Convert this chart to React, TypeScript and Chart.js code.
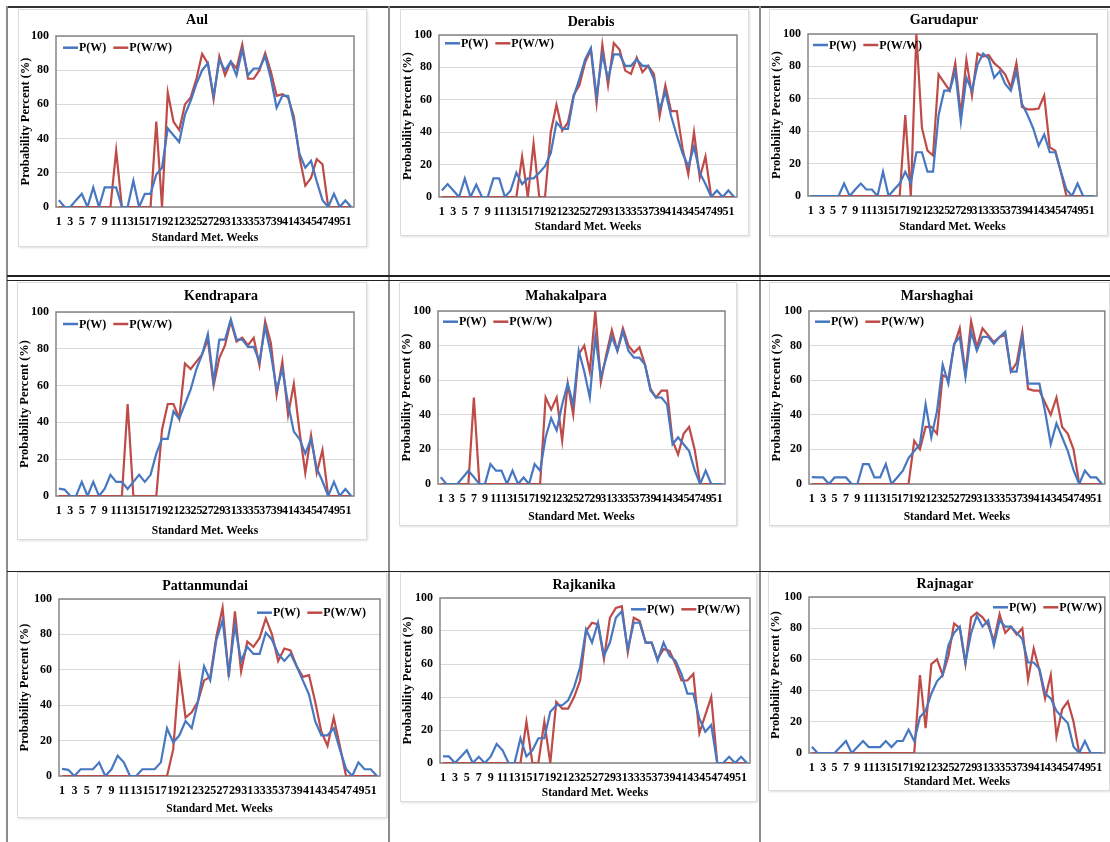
import React, { useEffect, useRef } from "react";
import { Chart, registerables } from "chart.js";
Chart.register(...registerables);

const weeks = ["1","2","3","4","5","6","7","8","9","10","11","12","13","14","15","16","17","18","19","20","21","22","23","24","25","26","27","28","29","30","31","32","33","34","35","36","37","38","39","40","41","42","43","44","45","46","47","48","49","50","51","52"];
const yTicks = [0, 20, 40, 60, 80, 100];

const aulPW = [4,0,0,4,7.7,0,11.5,0,11.5,11.5,11.5,0,0,15.4,0,7.7,7.7,19,23,46,42,38,54,62,72,80,84,65,86,80,85,77,92,77,81,81,88,75,58,65,65,50,31,23,27,15,4,0,7.7,0,3.8,0];
const aulPWW = [0,0,0,0,0,0,0,0,0,0,33,0,0,0,0,0,0,50,0,67,50,45,60,64,75,89.5,84,63,88,77,85,81,95,75,75,80,90,79,65,66,64,53,29,12.5,17,28,25,0,0,0,0,0];

const derabisPW = [4,8,4,0,11.5,0,7.7,0,0,11.5,11.5,0,4,15,8,11.5,11.5,15,19,27,46,42,42,62,73,85,92,62,88,73,88,88,81,81,85,81,81,73,54,65,50,38,27,19,31,15,8,0,4,0,4,0];
const derabisPWW = [0,0,0,0,0,0,0,0,0,0,0,0,0,0,25,0,33,0,0,40,57,41,46,63,69,83,91,58,94,69,95,91,78,76,86,77,81,76,50,69,53,53,30,14,40,12,25,0,0,0,0,0];

const garudapurPW = [0,0,0,0,0,0,7.7,0,4,7.7,4,4,0,15,0,4,7.7,15,8,27,27,15,15,50,65,65,77,46,73,65,81,88,85,73,77,69,65,77,57,50,42,31,38,27,27,15,4,0,7.7,0,0,0];
const garudapurPWW = [0,0,0,0,0,0,0,0,0,0,0,0,0,0,0,0,0,50,0,100,42,28,25,75,70,65,82,50,84,62,88,86,87,82,79,75,67,82,55,53.5,53.5,54,62,30,28,15,0,0,0,0,0,0];

const kendraparaPW = [4,3.5,0,0,7.7,0,7.7,0,4,11.5,7.7,7.7,3.8,7.7,11.5,7.7,11.5,23,31,31,46,42,50,58,69,77,88,62,85,85,96,85,85,81,81,73,92,77,58,69,50,35,31,23,31,15,8,0,7.7,0,3.8,0];
const kendraparaPWW = [0,0,0,0,0,0,0,0,0,0,0,0,50,0,0,0,0,0,36,50,50,42,72,69,73,77,85,60,75,82,95,84,86,82,86,71,95,83,55,73,44,61,35,12.5,33,12.5,25,0,0,0,0,0];

const mahakalparaPW = [4,0,0,0,3.8,7.7,4,0,0,11.5,7.7,7.7,0,7.7,0,3.8,0,11.5,7.7,27,38,31,46,58,46,77,65,50,85,62,73,85,77,88,77,73,73,69,54,50,50,46,23,27,23,19,8,0,7.7,0,0,0];
const mahakalparaPWW = [0,0,0,0,0,0,50,0,0,0,0,0,0,0,0,0,0,0,0,50,43,50,25,58,40,75,80,65,100,59,75,89,77,90,80,76,79,69,55,50,54,54,25,17,29,33,20,0,0,0,0,0];

const marshaghaiPW = [4,3.8,3.8,0,3.8,3.8,3.8,0,0,11.5,11.5,3.8,3.8,11.5,0,3.8,7.7,15,19,23,46,27,42,69,58,81,85,62,88,77,85,85,81,85,88,65,65,85,58,58,58,42,23,35,27,19,8,0,7.7,3.8,3.8,0];
const marshaghaiPWW = [0,0,0,0,0,0,0,0,0,0,0,0,0,0,0,0,0,0,25,20,33,33,29,63,61,80,90,64,94,79,90,86,82,85,86,65,70,88,55,54,54,47,40,50,33,29,20,0,0,0,0,0];

const pattanmundaiPW = [4,3.5,0,3.8,3.8,3.8,7.7,0,3.8,11.5,7.7,0,0,3.8,3.8,3.8,7.7,27,19,23,31,27,42,62,54,77,88,58,85,65,73,69,69,81,77,69,65,69,62,54,46,31,23,23,27,15,4,0,7.7,3.8,3.8,0];
const pattanmundaiPWW = [0,0,0,0,0,0,0,0,0,0,0,0,0,0,0,0,0,0,15,60,33,36,42,54,56,79,95,56,93,59,76,73,78,89,80,65,72,71,62,56,57,42,25,17,33,17,0,0,0,0,0,0];

const rajkanikaPW = [4,4,0,3.8,7.7,0,3.8,0,3.8,11.5,7.7,0,0,15,4,7.7,15,15,31,35,35,38,46,58,81,73,85,65,73,88,92,69,85,85,73,73,62,73,65,62,54,42,42,27,19,23,0,0,3.8,0,3.8,0];
const rajkanikaPWW = [0,0,0,0,0,0,0,0,0,0,0,0,0,0,25,0,0,25,0,37,33,33,40,50,80,85,84,63,88,94,95,67,88,86,73,73,63,69,68,60,50,50,54,18,29,40,0,0,0,0,0,0];

const rajnagarPW = [4,0,0,0,0,3.8,7.7,0,3.8,7.7,3.8,3.8,3.8,7.7,3.8,7.7,7.7,15,7.7,23,27,38,46,50,69,77,81,58,77,88,81,85,69,85,81,81,77,73,58,58,54,38,35,27,23,19,4,0,7.7,0,0,0];
const rajnagarPWW = [0,0,0,0,0,0,0,0,0,0,0,0,0,0,0,0,0,0,0,50,16,57,60,50,62,83,80,57,87,90,87,82,72,89,77,81,76,80,47,67,53,35,50,10.7,28,33,20,0,0,0,0,0];

const SERIF = "'Liberation Serif', 'Times New Roman', serif";
const BLUE = "#4677c0";
const RED = "#be4b48";

type Cfg = {
  title: string;
  pw: number[];
  pww: number[];
  box: number[];
  plot: number[];
  titlePos: number[];
  legendPos: number[];
};

const charts: Cfg[] = [
  { title: "Aul", pw: aulPW, pww: aulPWW, box: [18, 9, 367, 247], plot: [56, 36, 354, 207], titlePos: [197, 20], legendPos: [63, 47.7] },
  { title: "Derabis", pw: derabisPW, pww: derabisPWW, box: [400, 9, 749, 236], plot: [439, 35, 737, 197], titlePos: [591, 22], legendPos: [445, 43.3] },
  { title: "Garudapur", pw: garudapurPW, pww: garudapurPWW, box: [769, 9, 1108, 236], plot: [808, 34, 1097, 196], titlePos: [944, 20], legendPos: [813, 45] },
  { title: "Kendrapara", pw: kendraparaPW, pww: kendraparaPWW, box: [17, 282, 367, 540], plot: [56, 312, 354, 496], titlePos: [221, 296], legendPos: [63, 324] },
  { title: "Mahakalpara", pw: mahakalparaPW, pww: mahakalparaPWW, box: [399, 282, 737, 526], plot: [438, 311, 725, 484], titlePos: [566, 296], legendPos: [443, 321.7] },
  { title: "Marshaghai", pw: marshaghaiPW, pww: marshaghaiPWW, box: [769, 282, 1110, 526], plot: [809, 311, 1106, 484], titlePos: [937, 296], legendPos: [815, 321.7] },
  { title: "Pattanmundai", pw: pattanmundaiPW, pww: pattanmundaiPWW, box: [17, 572, 387, 818], plot: [59, 599, 380, 776], titlePos: [205, 586], legendPos: [257, 612.7] },
  { title: "Rajkanika", pw: rajkanikaPW, pww: rajkanikaPWW, box: [400, 572, 757, 802], plot: [440, 598, 750, 763], titlePos: [584, 585], legendPos: [631, 609.3] },
  { title: "Rajnagar", pw: rajnagarPW, pww: rajnagarPWW, box: [768, 572, 1110, 791], plot: [809, 597, 1108, 753], titlePos: [945, 584], legendPos: [993, 607.3] },
];

function LineChart({ cfg }: { cfg: Cfg }) {
  const ref = useRef<HTMLCanvasElement>(null);
  const [bl, bt, br, bb] = cfg.box;
  const [pl, pt, pr, pb] = cfg.plot;
  const W = br - bl;
  const H = bb - bt;
  useEffect(() => {
    if (!ref.current) return;
    const overlay = {
      id: "overlay" + cfg.title,
      beforeDatasetsDraw(chart: any) {
        const { ctx, chartArea } = chart;
        ctx.save();
        ctx.strokeStyle = "#858585";
        ctx.lineWidth = 1.5;
        ctx.strokeRect(chartArea.left, chartArea.top, chartArea.right - chartArea.left, chartArea.bottom - chartArea.top);
        ctx.restore();
      },
      afterDraw(chart: any) {
        const { ctx } = chart;
        ctx.save();
        ctx.fillStyle = "#000";
        ctx.font = "bold 14px " + SERIF;
        ctx.textAlign = "center";
        ctx.textBaseline = "middle";
        ctx.fillText(cfg.title, cfg.titlePos[0] - bl, cfg.titlePos[1] - bt);
        ctx.font = "bold 12px " + SERIF;
        ctx.textAlign = "left";
        let x = cfg.legendPos[0] - bl;
        const y = cfg.legendPos[1] - bt;
        chart.data.datasets.forEach((ds: any) => {
          ctx.strokeStyle = ds.borderColor;
          ctx.lineWidth = 2.5;
          ctx.beginPath();
          ctx.moveTo(x, y);
          ctx.lineTo(x + 15, y);
          ctx.stroke();
          ctx.fillStyle = "#000";
          ctx.fillText(ds.label, x + 16, y + 0.5);
          x += 16 + ctx.measureText(ds.label).width + 7;
        });
        ctx.restore();
      },
    };
    const chart = new Chart(ref.current, {
      type: "line",
      data: {
        labels: weeks,
        datasets: [
          { label: "P(W)", data: cfg.pw, borderColor: BLUE, backgroundColor: BLUE, borderWidth: 2.2, pointRadius: 0, tension: 0, fill: false },
          { label: "P(W/W)", data: cfg.pww, borderColor: RED, backgroundColor: RED, borderWidth: 2.2, pointRadius: 0, tension: 0, fill: false },
        ],
      },
      options: {
        responsive: false,
        animation: false,
        devicePixelRatio: 1,
        events: [],
        layout: { padding: { left: 0, top: pt - bt, right: br - pr, bottom: 0 } },
        plugins: { legend: { display: false }, title: { display: false }, tooltip: { enabled: false } },
        scales: {
          x: {
            type: "category",
            offset: true,
            grid: { display: false, drawTicks: false },
            border: { display: false },
            ticks: {
              autoSkip: false,
              maxRotation: 0,
              minRotation: 0,
              padding: 8,
              color: "#000",
              font: { family: SERIF, size: 12, weight: "bold" },
              callback: (_v: any, i: number) => (i % 2 === 0 ? weeks[i] : ""),
            },
            title: {
              display: true,
              text: "Standard Met. Weeks",
              color: "#000",
              font: { family: SERIF, size: 11.5, weight: "bold" },
              padding: { top: 0, bottom: 2 },
            },
            afterFit: (s: any) => {
              s.height = bb - pb;
            },
          },
          y: {
            min: yTicks[0],
            max: yTicks[yTicks.length - 1],
            ticks: { stepSize: 20, padding: 7, color: "#000", font: { family: SERIF, size: 12, weight: "bold" } },
            grid: { color: "#d9d9d9", drawTicks: false, lineWidth: 1 },
            border: { display: false },
            title: {
              display: true,
              text: "Probability Percent (%)",
              color: "#000",
              font: { family: SERIF, size: 12.5, weight: "bold" },
              padding: { top: 0, bottom: 0 },
            },
            afterFit: (s: any) => {
              s.width = pl - bl;
            },
          },
        },
      } as any,
      plugins: [overlay],
    });
    return () => chart.destroy();
  }, []);
  return (
    <>
      <div
        style={{
          position: "absolute",
          left: bl,
          top: bt,
          width: W,
          height: H,
          border: "1px solid #dcdcdc",
          boxShadow: "1px 1px 2px rgba(0,0,0,0.12)",
          boxSizing: "border-box",
          background: "#fff",
        }}
      />
      <canvas ref={ref} width={W} height={H} style={{ position: "absolute", left: bl, top: bt, width: W, height: H }} />
    </>
  );
}

function Line({ l, t, w, h, c }: { l: number; t: number; w: number; h: number; c: string }) {
  return <div style={{ position: "absolute", left: l, top: t, width: w, height: h, background: c }} />;
}

export default function App() {
  return (
    <div style={{ position: "absolute", left: 0, top: 0, width: 1110, height: 842, background: "#fff", overflow: "hidden" }}>
      <Line l={7} t={6} w={1103} h={2} c="#333" />
      <Line l={6} t={6} w={2} h={836} c="#8c8c8c" />
      <Line l={388} t={6} w={2} h={836} c="#8c8c8c" />
      <Line l={759} t={6} w={2} h={836} c="#8c8c8c" />
      <Line l={7} t={275} w={1103} h={1.5} c="#222" />
      <Line l={7} t={279.5} w={1103} h={1.5} c="#222" />
      <Line l={7} t={570.5} w={1103} h={1.5} c="#222" />
      {charts.map((c) => (
        <LineChart key={c.title} cfg={c} />
      ))}
    </div>
  );
}
